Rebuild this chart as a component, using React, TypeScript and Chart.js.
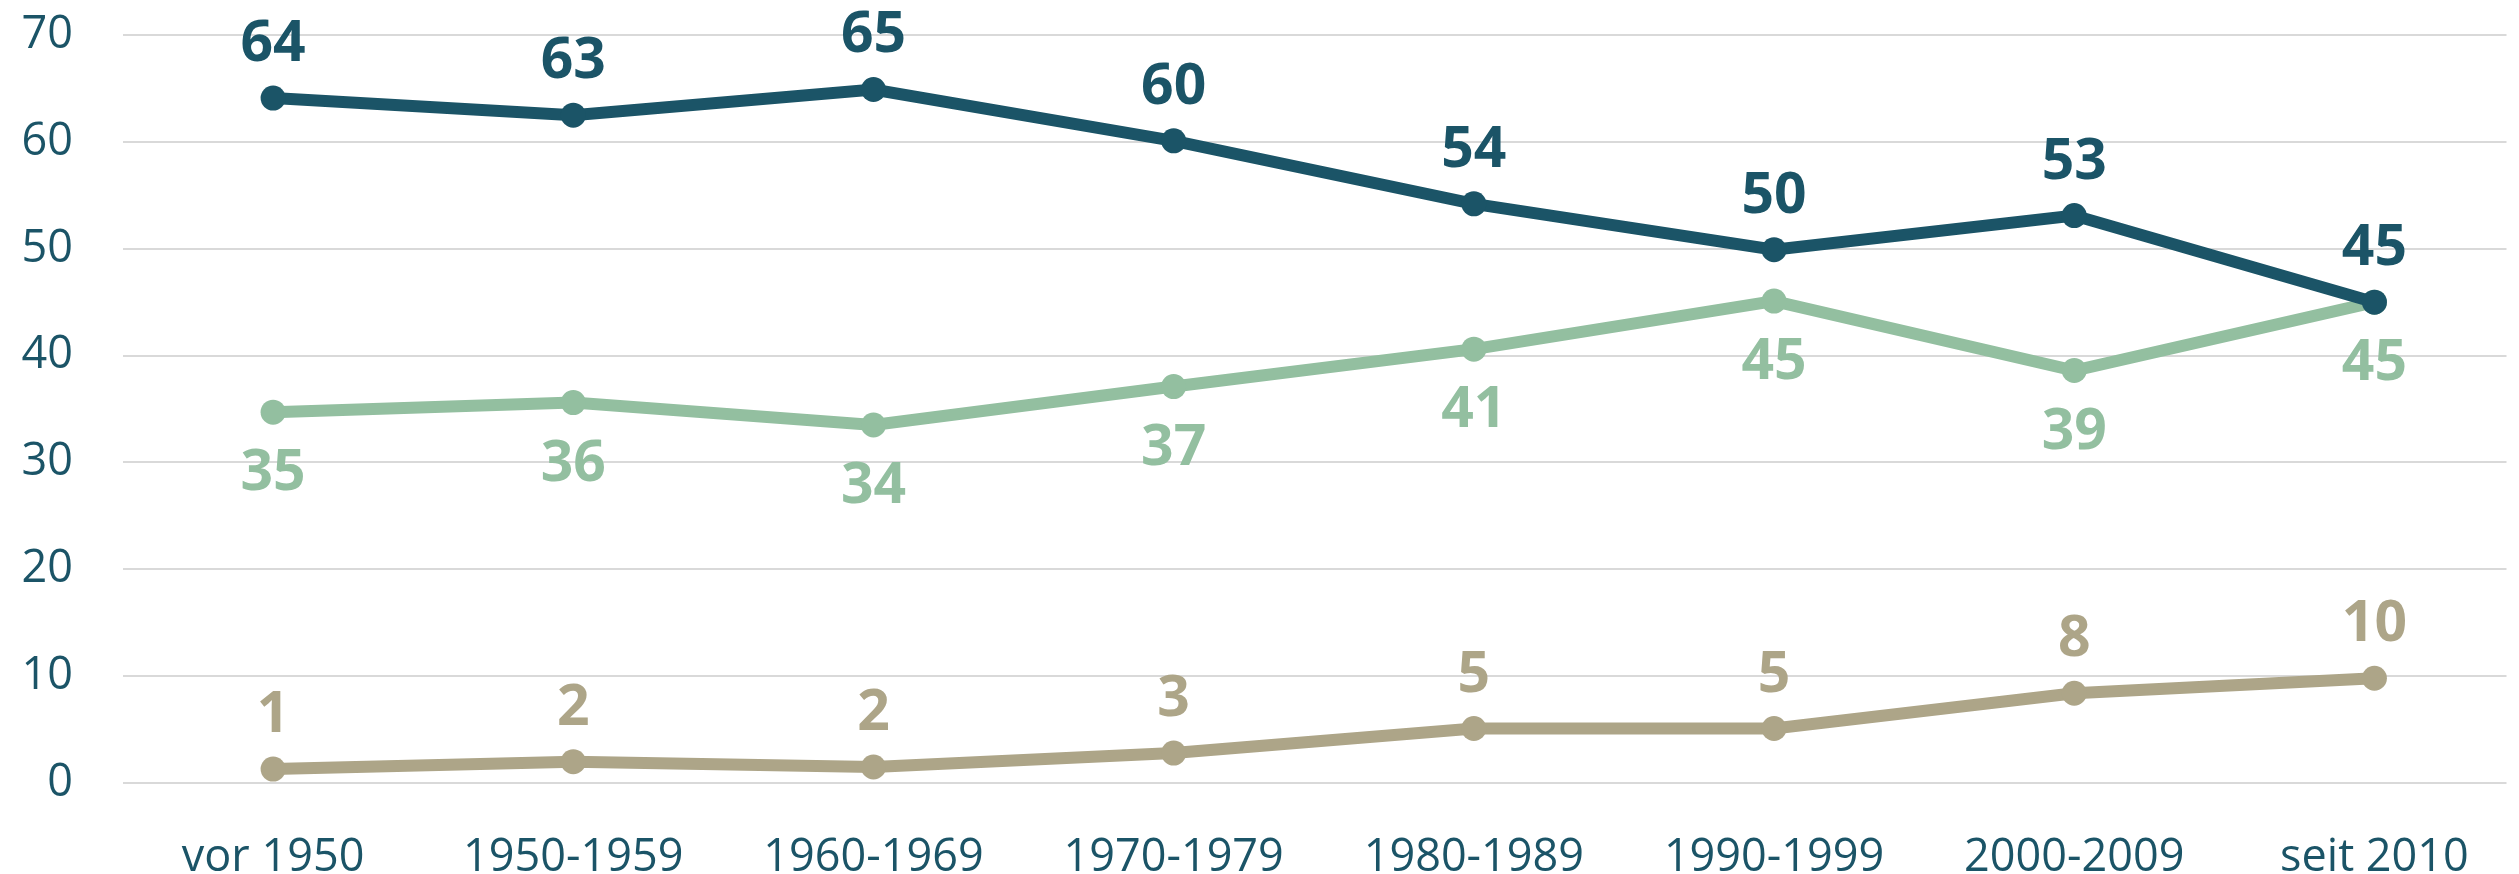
import React, { useEffect, useRef } from "react";
import { Chart, registerables } from "chart.js";

Chart.register(...registerables);

const categories = [
  "vor 1950",
  "1950-1959",
  "1960-1969",
  "1970-1979",
  "1980-1989",
  "1990-1999",
  "2000-2009",
  "seit 2010",
];

const darkValues = [64.1, 62.5, 64.9, 60.1, 54.2, 49.9, 53.1, 45.0];
const darkLabels = ["64", "63", "65", "60", "54", "50", "53", "45"];

const greenValues = [34.7, 35.6, 33.5, 37.1, 40.6, 45.1, 38.6, 45.0];
const greenLabels = ["35", "36", "34", "37", "41", "45", "39", "45"];

const tanValues = [1.3, 2.0, 1.5, 2.8, 5.1, 5.1, 8.4, 9.8];
const tanLabels = ["1", "2", "2", "3", "5", "5", "8", "10"];

const yTicks = [0, 10, 20, 30, 40, 50, 60, 70];

const DARK = "#1B5467";
const GREEN = "#93BFA0";
const TAN = "#ADA588";
const FONT = "'Open Sans', sans-serif";

const labelPlugin = {
  id: "pointLabels",
  afterDatasetsDraw(chart: any) {
    const ctx = chart.ctx;
    ctx.save();
    ctx.font = `bold 57px ${FONT}`;
    ctx.textAlign = "center";
    ctx.textBaseline = "alphabetic";
    chart.data.datasets.forEach((ds: any, di: number) => {
      const meta = chart.getDatasetMeta(di);
      const labels: string[] = ds.pointLabelTexts;
      const below: boolean = ds.pointLabelBelow;
      ctx.fillStyle = ds.borderColor;
      meta.data.forEach((pt: any, i: number) => {
        const y = below ? pt.y + 78 : pt.y - 37;
        ctx.fillText(labels[i], pt.x, y);
      });
    });
    ctx.restore();
  },
};

export default function App() {
  const ref = useRef<HTMLCanvasElement | null>(null);

  useEffect(() => {
    document.body.style.margin = "0";
    const canvas = ref.current;
    if (!canvas) return;
    const mk = (vals: number[]) => vals.map((v, i) => ({ x: i, y: v }));
    const common = {
      borderWidth: 12,
      pointRadius: 12.5,
      pointHoverRadius: 12.5,
      pointBorderWidth: 0,
      tension: 0,
    };
    const chart = new Chart(canvas, {
      type: "line",
      data: {
        datasets: [
          {
            ...common,
            data: mk(darkValues),
            borderColor: DARK,
            backgroundColor: DARK,
            pointBackgroundColor: DARK,
            pointLabelTexts: darkLabels,
            pointLabelBelow: false,
          } as any,
          {
            ...common,
            data: mk(greenValues),
            borderColor: GREEN,
            backgroundColor: GREEN,
            pointBackgroundColor: GREEN,
            pointLabelTexts: greenLabels,
            pointLabelBelow: true,
          } as any,
          {
            ...common,
            data: mk(tanValues),
            borderColor: TAN,
            backgroundColor: TAN,
            pointBackgroundColor: TAN,
            pointLabelTexts: tanLabels,
            pointLabelBelow: false,
          } as any,
        ],
      },
      options: {
        responsive: false,
        animation: false,
        layout: { padding: { top: 35, left: 0, right: 0, bottom: 0 } },
        plugins: {
          legend: { display: false },
          tooltip: { enabled: false },
        },
        scales: {
          x: {
            type: "linear",
            min: -0.5,
            max: 7.44,
            grid: { display: false },
            border: { display: false },
            afterBuildTicks: (axis: any) => {
              axis.ticks = categories.map((_, i) => ({ value: i }));
            },
            afterFit: (axis: any) => {
              axis.height = 91;
              axis.paddingLeft = 0;
              axis.paddingRight = 0;
              axis.paddingTop = 0;
              axis.paddingBottom = 0;
            },
            ticks: {
              autoSkip: false,
              maxRotation: 0,
              minRotation: 0,
              padding: 40,
              color: DARK,
              font: { family: FONT, size: 45 },
              callback: (v: any) => categories[Math.round(Number(v))] ?? "",
            },
          },
          y: {
            min: 0,
            max: 70,
            afterBuildTicks: (axis: any) => {
              axis.ticks = yTicks.map((v) => ({ value: v }));
            },
            afterFit: (axis: any) => {
              axis.width = 123;
              axis.paddingTop = 0;
              axis.paddingBottom = 0;
              axis.paddingLeft = 0;
              axis.paddingRight = 0;
            },
            grid: { color: "#D9D9D9", lineWidth: 2, drawTicks: false },
            border: { display: false },
            ticks: {
              padding: 50,
              color: DARK,
              font: { family: FONT, size: 45 },
            },
          },
        },
      },
      plugins: [labelPlugin],
    } as any);
    return () => chart.destroy();
  }, []);

  return (
    <div style={{ width: 2519, height: 874, overflow: "hidden" }}>
      <canvas ref={ref} width={2519} height={874} style={{ display: "block" }} />
    </div>
  );
}
